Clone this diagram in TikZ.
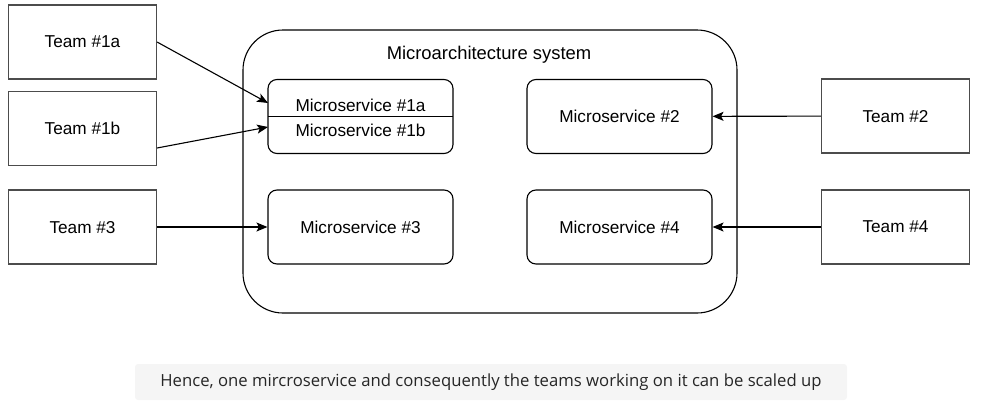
\documentclass[tikz,border=0pt]{standalone}
\usepackage{fontspec}
\setmainfont{Liberation Sans}
\newfontfamily\capfont{Open Sans}
\usetikzlibrary{arrows.meta}
\begin{document}
\begin{tikzpicture}[x=1pt,y=-1pt,
  team/.style={draw=black!70,line width=1.1pt,minimum width=148pt,minimum height=74pt,inner sep=0pt,text depth=0pt,font=\fontsize{17.2}{20}\selectfont},
  ms/.style={draw,line width=1.1pt,rounded corners=9pt,minimum width=185pt,minimum height=74pt,inner sep=0pt,text depth=0pt,font=\fontsize{17.2}{20}\selectfont},
  arr/.style={draw,line width=1.1pt,-{Stealth[length=11pt,width=9pt,inset=2.5pt]}}]
\useasboundingbox (0,0) rectangle (982,407);
\node[draw,line width=1.1pt,rounded corners=40pt,minimum width=494pt,minimum height=283pt] (sys) at (490,171.5) {};
\node[font=\fontsize{18.4}{21}\selectfont] (title) at (489,55) {Microarchitecture system};
\node[team] (t1a) at (82.5,42) {Team \#1a};
\node[team] (t1b) at (82.5,128.5) {Team \#1b};
\node[team] (t3) at (82.5,227) {Team \#3};
\node[team] (t2) at (895.5,116) {Team \#2};
\node[team] (t4) at (895.5,227) {Team \#4};
\node[ms] (m1) at (360.5,116.5) {};
\coordinate (m1l) at (268,116.5);
\coordinate (m1r) at (453,116.5);
\draw[line width=1.1pt] (m1l) -- (m1r);
\node[font=\fontsize{17.2}{20}\selectfont] (m1a) at (360.5,105) {Microservice \#1a};
\node[font=\fontsize{17.2}{20}\selectfont] (m1b) at (360.5,130) {Microservice \#1b};
\coordinate (m1ain) at (268,103);
\coordinate (m1bin) at (268,127);
\node[ms] (m2) at (619.5,116.5) {Microservice \#2};
\node[ms] (m3) at (360.5,227) {Microservice \#3};
\node[ms] (m4) at (619.5,227) {Microservice \#4};
\draw[arr] (t1a.east) -- (m1ain);
\draw[arr] ([yshift=-19.5pt]t1b.east) -- (m1bin);
\draw[arr] (t3) -- (m3);
\draw[arr] (t2) -- (m2);
\draw[arr] (t4) -- (m4);
\node[fill=black!4,rounded corners=3pt,minimum width=712pt,minimum height=36pt,inner sep=0pt,font=\capfont\fontsize{16.7}{19}\selectfont,text=black!85] (cap) at (491,382) {Hence, one mircroservice and consequently the teams working on it can be scaled up};
\end{tikzpicture}
\end{document}
